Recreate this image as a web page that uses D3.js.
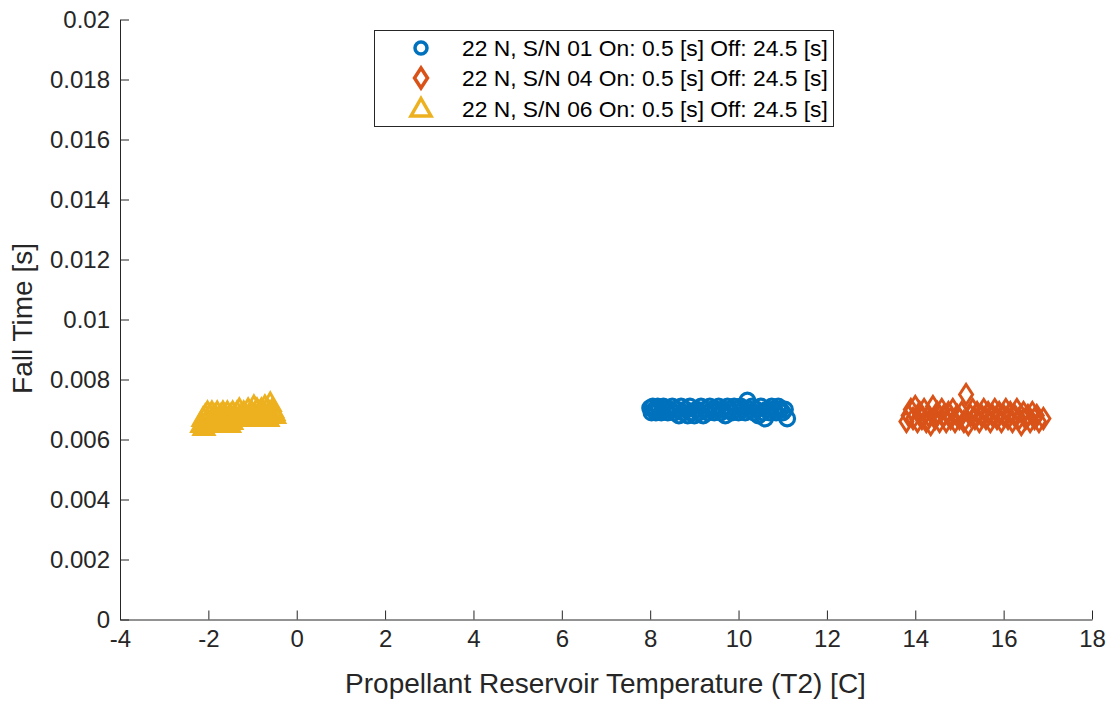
<!DOCTYPE html>
<html><head><meta charset="utf-8">
<script src="https://cdn.jsdelivr.net/npm/d3@7"></script>
<style>body{margin:0;background:#fff;} text{font-family:"Liberation Sans",Arial,sans-serif;}</style>
</head><body>
<svg id="c" width="1108" height="703"></svg>
<script>
const xTicks = [-4,-2,0,2,4,6,8,10,12,14,16,18];
const yTicks = [0,0.002,0.004,0.006,0.008,0.01,0.012,0.014,0.016,0.018,0.02];
const seriesNames = ["22 N, S/N 01 On: 0.5 [s] Off: 24.5 [s]","22 N, S/N 04 On: 0.5 [s] Off: 24.5 [s]","22 N, S/N 06 On: 0.5 [s] Off: 24.5 [s]"];
const sn01X = [8.00,8.03,8.06,8.10,8.13,8.17,8.20,8.25,8.30,8.35,8.40,8.45,8.50,8.55,8.60,8.65,8.70,8.75,8.80,8.85,8.90,8.95,9.00,9.05,9.10,9.15,9.20,9.25,9.30,9.35,9.40,9.45,9.50,9.55,9.60,9.65,9.70,9.75,9.80,9.85,9.90,9.95,10.00,10.05,10.10,10.15,10.20,10.25,10.30,10.35,10.40,10.45,10.50,10.55,10.60,10.65,10.70,10.75,10.80,10.85,10.90,10.95,11.00,11.05,11.10];
const sn01Y = [0.00705,0.0069,0.0071,0.0070,0.0069,0.0071,0.0070,0.0069,0.0071,0.0070,0.0069,0.0070,0.0071,0.0069,0.0070,0.0068,0.0071,0.0069,0.0070,0.0068,0.0071,0.0069,0.0068,0.0070,0.0069,0.0071,0.0068,0.0070,0.0069,0.0071,0.0070,0.0069,0.0070,0.0071,0.0069,0.0070,0.0068,0.0071,0.0070,0.0069,0.0071,0.0070,0.0069,0.0071,0.0070,0.0069,0.0073,0.0070,0.0071,0.0069,0.0070,0.0068,0.0071,0.0069,0.0067,0.0070,0.0069,0.0071,0.0070,0.0069,0.0071,0.0070,0.0069,0.0070,0.0067];
const sn04X = [13.80,13.85,13.90,13.95,14.00,14.05,14.10,14.15,14.20,14.25,14.30,14.35,14.40,14.45,14.50,14.55,14.60,14.65,14.70,14.75,14.80,14.85,14.90,14.95,15.00,15.05,15.10,15.15,15.20,15.25,15.30,15.35,15.40,15.45,15.50,15.55,15.60,15.65,15.70,15.75,15.80,15.85,15.90,15.95,16.00,16.05,16.10,16.15,16.20,16.25,16.30,16.35,16.40,16.45,16.50,16.55,16.60,16.65,16.70,16.75,16.80,16.90];
const sn04Y = [0.0066,0.0068,0.0070,0.0067,0.0071,0.0066,0.0069,0.0067,0.0070,0.0066,0.0068,0.0065,0.0071,0.0067,0.0069,0.0066,0.0070,0.0068,0.0066,0.0069,0.0067,0.0070,0.0066,0.0068,0.0067,0.0069,0.0066,0.0075,0.0065,0.0068,0.0070,0.0067,0.0069,0.0066,0.0068,0.0070,0.0067,0.0069,0.0066,0.0068,0.0070,0.0067,0.0069,0.0066,0.0068,0.0070,0.0067,0.0069,0.0066,0.0068,0.0070,0.0067,0.0065,0.0069,0.0067,0.0068,0.0066,0.0069,0.0067,0.0068,0.0066,0.0067];
const sn06X = [-2.15,-2.12,-2.10,-2.07,-2.05,-2.02,-2.00,-1.97,-1.95,-1.92,-1.90,-1.87,-1.85,-1.82,-1.80,-1.77,-1.75,-1.72,-1.70,-1.67,-1.65,-1.62,-1.60,-1.57,-1.55,-1.52,-1.50,-1.47,-1.45,-1.42,-1.40,-1.37,-1.35,-1.32,-1.30,-1.27,-1.25,-1.22,-1.20,-1.17,-1.15,-1.12,-1.10,-1.07,-1.05,-1.02,-1.00,-0.97,-0.95,-0.92,-0.90,-0.87,-0.85,-0.82,-0.80,-0.77,-0.75,-0.72,-0.70,-0.67,-0.65,-0.62,-0.60,-0.57,-0.55,-0.52,-0.50];
const sn06Y = [0.0065,0.0067,0.0064,0.0068,0.0066,0.0069,0.0065,0.0068,0.0066,0.0069,0.0067,0.0065,0.0068,0.0066,0.0069,0.0067,0.0065,0.0068,0.0066,0.0069,0.0067,0.0068,0.0066,0.0069,0.0067,0.0065,0.0068,0.0066,0.0069,0.0067,0.0068,0.0067,0.0069,0.0067,0.0070,0.0067,0.0068,0.0067,0.0069,0.0067,0.0068,0.0067,0.0070,0.0068,0.0067,0.0069,0.0067,0.0071,0.0068,0.0067,0.0070,0.0067,0.0069,0.0067,0.0070,0.0068,0.0067,0.0071,0.0068,0.0070,0.0067,0.0069,0.0072,0.0068,0.0070,0.0069,0.0068];

const svg = d3.select("#c");
const L=120, R=1092, T=19.5, B=619.5;
const x = d3.scaleLinear().domain([-4,18]).range([L,R]);
const y = d3.scaleLinear().domain([0,0.02]).range([B,T]);
const axCol = "#262626";
const FONT = "Liberation Sans, Arial, sans-serif";

const xa = svg.append("g").attr("transform",`translate(0,${B})`)
  .call(d3.axisBottom(x).tickValues(xTicks).tickSizeInner(-9).tickSizeOuter(0).tickPadding(10).tickFormat(d=>d<0?"-"+Math.abs(d):d));
const ya = svg.append("g").attr("transform",`translate(${L},0)`)
  .call(d3.axisLeft(y).tickValues(yTicks).tickSizeInner(-9).tickSizeOuter(0).tickPadding(10).tickFormat(d=>d===0?"0":String(+d.toFixed(3))));
[xa,ya].forEach(g=>{
  g.select(".domain").attr("stroke",axCol).attr("stroke-width",1);
  g.selectAll(".tick line").attr("stroke",axCol).attr("stroke-width",1);
  g.selectAll(".tick text").attr("fill",axCol).style("font-size","24px").style("font-family",FONT);
});

const diamond = "M0,-10L6.5,0L0,10L-6.5,0Z";
const tri = "M0,-10.5L10,7L-10,7Z";
function drawSeries(xs, ys, color, shape){
  const g = svg.append("g");
  xs.forEach((a,i)=>{
    const px=x(a), py=y(ys[i]);
    if(shape==="circle"){
      g.append("circle").attr("cx",px).attr("cy",py).attr("r",7.4).attr("fill","none").attr("stroke",color).attr("stroke-width",3.2);
    } else {
      g.append("path").attr("d",shape==="diamond"?diamond:tri).attr("transform",`translate(${px},${py})`)
        .attr("fill","none").attr("stroke",color).attr("stroke-width",3).attr("stroke-linejoin","miter");
    }
  });
}
const colors=["#0072BD","#D95319","#EDB120"];
drawSeries(sn06X, sn06Y, colors[2], "tri");
drawSeries(sn01X, sn01Y, colors[0], "circle");
drawSeries(sn04X, sn04Y, colors[1], "diamond");

// legend
const lg = svg.append("g");
lg.append("rect").attr("x",374.5).attr("y",30.5).attr("width",459).attr("height",96).attr("fill","#fff").attr("stroke",axCol).attr("stroke-width",1);
const rows=[48,78,109];
const shapes=["circle","diamond","tri"];
rows.forEach((ry,i)=>{
  if(shapes[i]==="circle") lg.append("circle").attr("cx",421).attr("cy",ry).attr("r",6).attr("fill","none").attr("stroke",colors[i]).attr("stroke-width",3.5);
  else lg.append("path").attr("d",shapes[i]==="diamond"?diamond:tri).attr("transform",`translate(421,${ry})`).attr("fill","none").attr("stroke",colors[i]).attr("stroke-width",3.5);
  lg.append("text").attr("x",462).attr("y",ry).attr("dy","0.36em").attr("fill","#000").style("font-size","22.8px").text(seriesNames[i]);
});

svg.append("text").attr("x",(L+R)/2-0.5).attr("y",693).attr("text-anchor","middle").attr("fill",axCol).style("font-size","28px").text("Propellant Reservoir Temperature (T2) [C]");
svg.append("text").attr("transform",`translate(32,${(T+B)/2-1}) rotate(-90)`).attr("text-anchor","middle").attr("fill",axCol).style("font-size","28px").text("Fall Time [s]");
</script>
</body></html>
